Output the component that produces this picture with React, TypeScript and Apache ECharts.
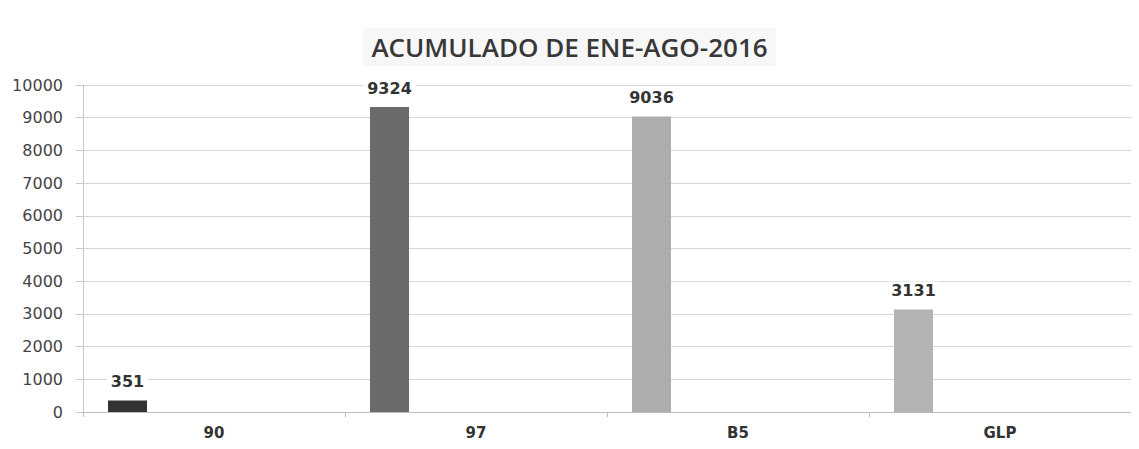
import React, { useEffect, useRef } from "react";
import * as echarts from "echarts";

const titleText = "ACUMULADO DE ENE-AGO-2016";
const categories = ["90", "97", "B5", "GLP"];
const values = [351, 9324, 9036, 3131];
const barColors = ["#333333", "#6b6b6b", "#adadad", "#b3b3b3"];
const yTicks = { min: 0, max: 10000, interval: 1000 };

export default function App() {
  const ref = useRef<HTMLDivElement>(null);
  useEffect(() => {
    if (!ref.current) return;
    const chart = echarts.init(ref.current, null, { renderer: "svg" });
    chart.setOption({
      animation: false,
      backgroundColor: "#ffffff",
      title: {
        text: titleText,
        left: "center",
        top: 20,
        padding: [6, 8],
        backgroundColor: "#f7f7f7",
        textStyle: {
          fontFamily: "Open Sans",
          fontSize: 26,
          fontWeight: 600,
          color: "#383838",
        },
      },
      grid: { left: 75, right: 0, top: 77, bottom: 29, containLabel: false },
      xAxis: {
        type: "category",
        data: categories,
        axisLine: { show: true, lineStyle: { color: "#bdbdbd", width: 1 } },
        axisTick: { show: true, alignWithLabel: false, length: 5, lineStyle: { color: "#bdbdbd" } },
        axisLabel: {
          margin: 13,
          fontFamily: "DejaVu Sans",
          fontSize: 15,
          fontWeight: "bold",
          color: "#333333",
        },
        splitLine: { show: false },
      },
      yAxis: {
        type: "value",
        min: yTicks.min,
        max: yTicks.max,
        interval: yTicks.interval,
        axisLine: { show: true, lineStyle: { color: "#c8c8c8", width: 1 } },
        axisTick: { show: true, length: 7, lineStyle: { color: "#c8c8c8" } },
        axisLabel: {
          margin: 20,
          fontFamily: "DejaVu Sans",
          fontSize: 16,
          color: "#444444",
          formatter: (v: number) => String(v),
        },
        splitLine: { show: true, lineStyle: { color: "#d6d6d6", width: 1 } },
      },
      series: [
        {
          type: "bar",
          barWidth: 39,
          barGap: "0%",
          data: values.map((v, i) => ({ value: v, itemStyle: { color: barColors[i] } })),
          label: {
            show: true,
            position: "top",
            distance: 10,
            fontFamily: "DejaVu Sans",
            fontSize: 16,
            fontWeight: "bold",
            color: "#333333",
            backgroundColor: "#ffffff",
            padding: [1, 4],
          },
        },
        {
          type: "bar",
          barWidth: 173,
          barGap: "0%",
          data: categories.map(() => null),
          silent: true,
        },
      ],
    });
    return () => chart.dispose();
  }, []);
  return <div ref={ref} style={{ width: 1123, height: 433 }} />;
}
